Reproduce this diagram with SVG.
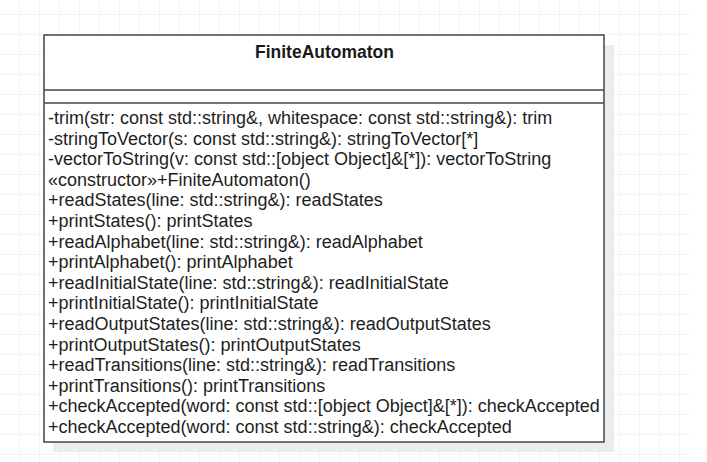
<svg xmlns="http://www.w3.org/2000/svg" width="707" height="462" viewBox="0 0 707 462">
  <defs>
    <pattern id="grid" x="19" y="14" width="20" height="20" patternUnits="userSpaceOnUse">
      <path d="M0 0H20M0 0V20" fill="none" stroke="#efefef" stroke-width="1.5"/>
    </pattern>
    <style>
      .frame { fill: #ffffff; stroke: #444444; stroke-width: 1.5; }
      .sep { stroke: #444444; stroke-width: 1.5; }
      .shadow { fill: #ececec; }
      .title { font-family: "Liberation Sans", Arial, sans-serif; font-size: 17.5px; font-weight: bold; fill: #1a1a1a; text-anchor: middle; }
      .op { font-family: "Liberation Sans", Arial, sans-serif; font-size: 18px; fill: #1e1e1e; }
    </style>
  </defs>

  <!-- canvas grid -->
  <rect x="0" y="0" width="690" height="462" fill="url(#grid)"/>

  <!-- class: FiniteAutomaton -->
  <g id="FiniteAutomaton">
    <rect class="shadow" x="53" y="45" width="561" height="407"/>
    <rect class="frame" x="44" y="35" width="560" height="407"/>
    <line class="sep" x1="44" y1="90" x2="604" y2="90"/>
    <line class="sep" x1="44" y1="103" x2="604" y2="103"/>
    <text class="title" x="324.5" y="58">FiniteAutomaton</text>
    <g class="op">
      <text x="48" y="124">-trim(str: const std::string&amp;, whitespace: const std::string&amp;): trim</text>
      <text x="48" y="144.6">-stringToVector(s: const std::string&amp;): stringToVector[*]</text>
      <text x="48" y="165.2">-vectorToString(v: const std::[object Object]&amp;[*]): vectorToString</text>
      <text x="48" y="185.8">«constructor»+FiniteAutomaton()</text>
      <text x="48" y="206.4">+readStates(line: std::string&amp;): readStates</text>
      <text x="48" y="227">+printStates(): printStates</text>
      <text x="48" y="247.6">+readAlphabet(line: std::string&amp;): readAlphabet</text>
      <text x="48" y="268.2">+printAlphabet(): printAlphabet</text>
      <text x="48" y="288.8">+readInitialState(line: std::string&amp;): readInitialState</text>
      <text x="48" y="309.4">+printInitialState(): printInitialState</text>
      <text x="48" y="330">+readOutputStates(line: std::string&amp;): readOutputStates</text>
      <text x="48" y="350.6">+printOutputStates(): printOutputStates</text>
      <text x="48" y="371.2">+readTransitions(line: std::string&amp;): readTransitions</text>
      <text x="48" y="391.8">+printTransitions(): printTransitions</text>
      <text x="48" y="412.4">+checkAccepted(word: const std::[object Object]&amp;[*]): checkAccepted</text>
      <text x="48" y="433">+checkAccepted(word: const std::string&amp;): checkAccepted</text>
    </g>
  </g>
</svg>
